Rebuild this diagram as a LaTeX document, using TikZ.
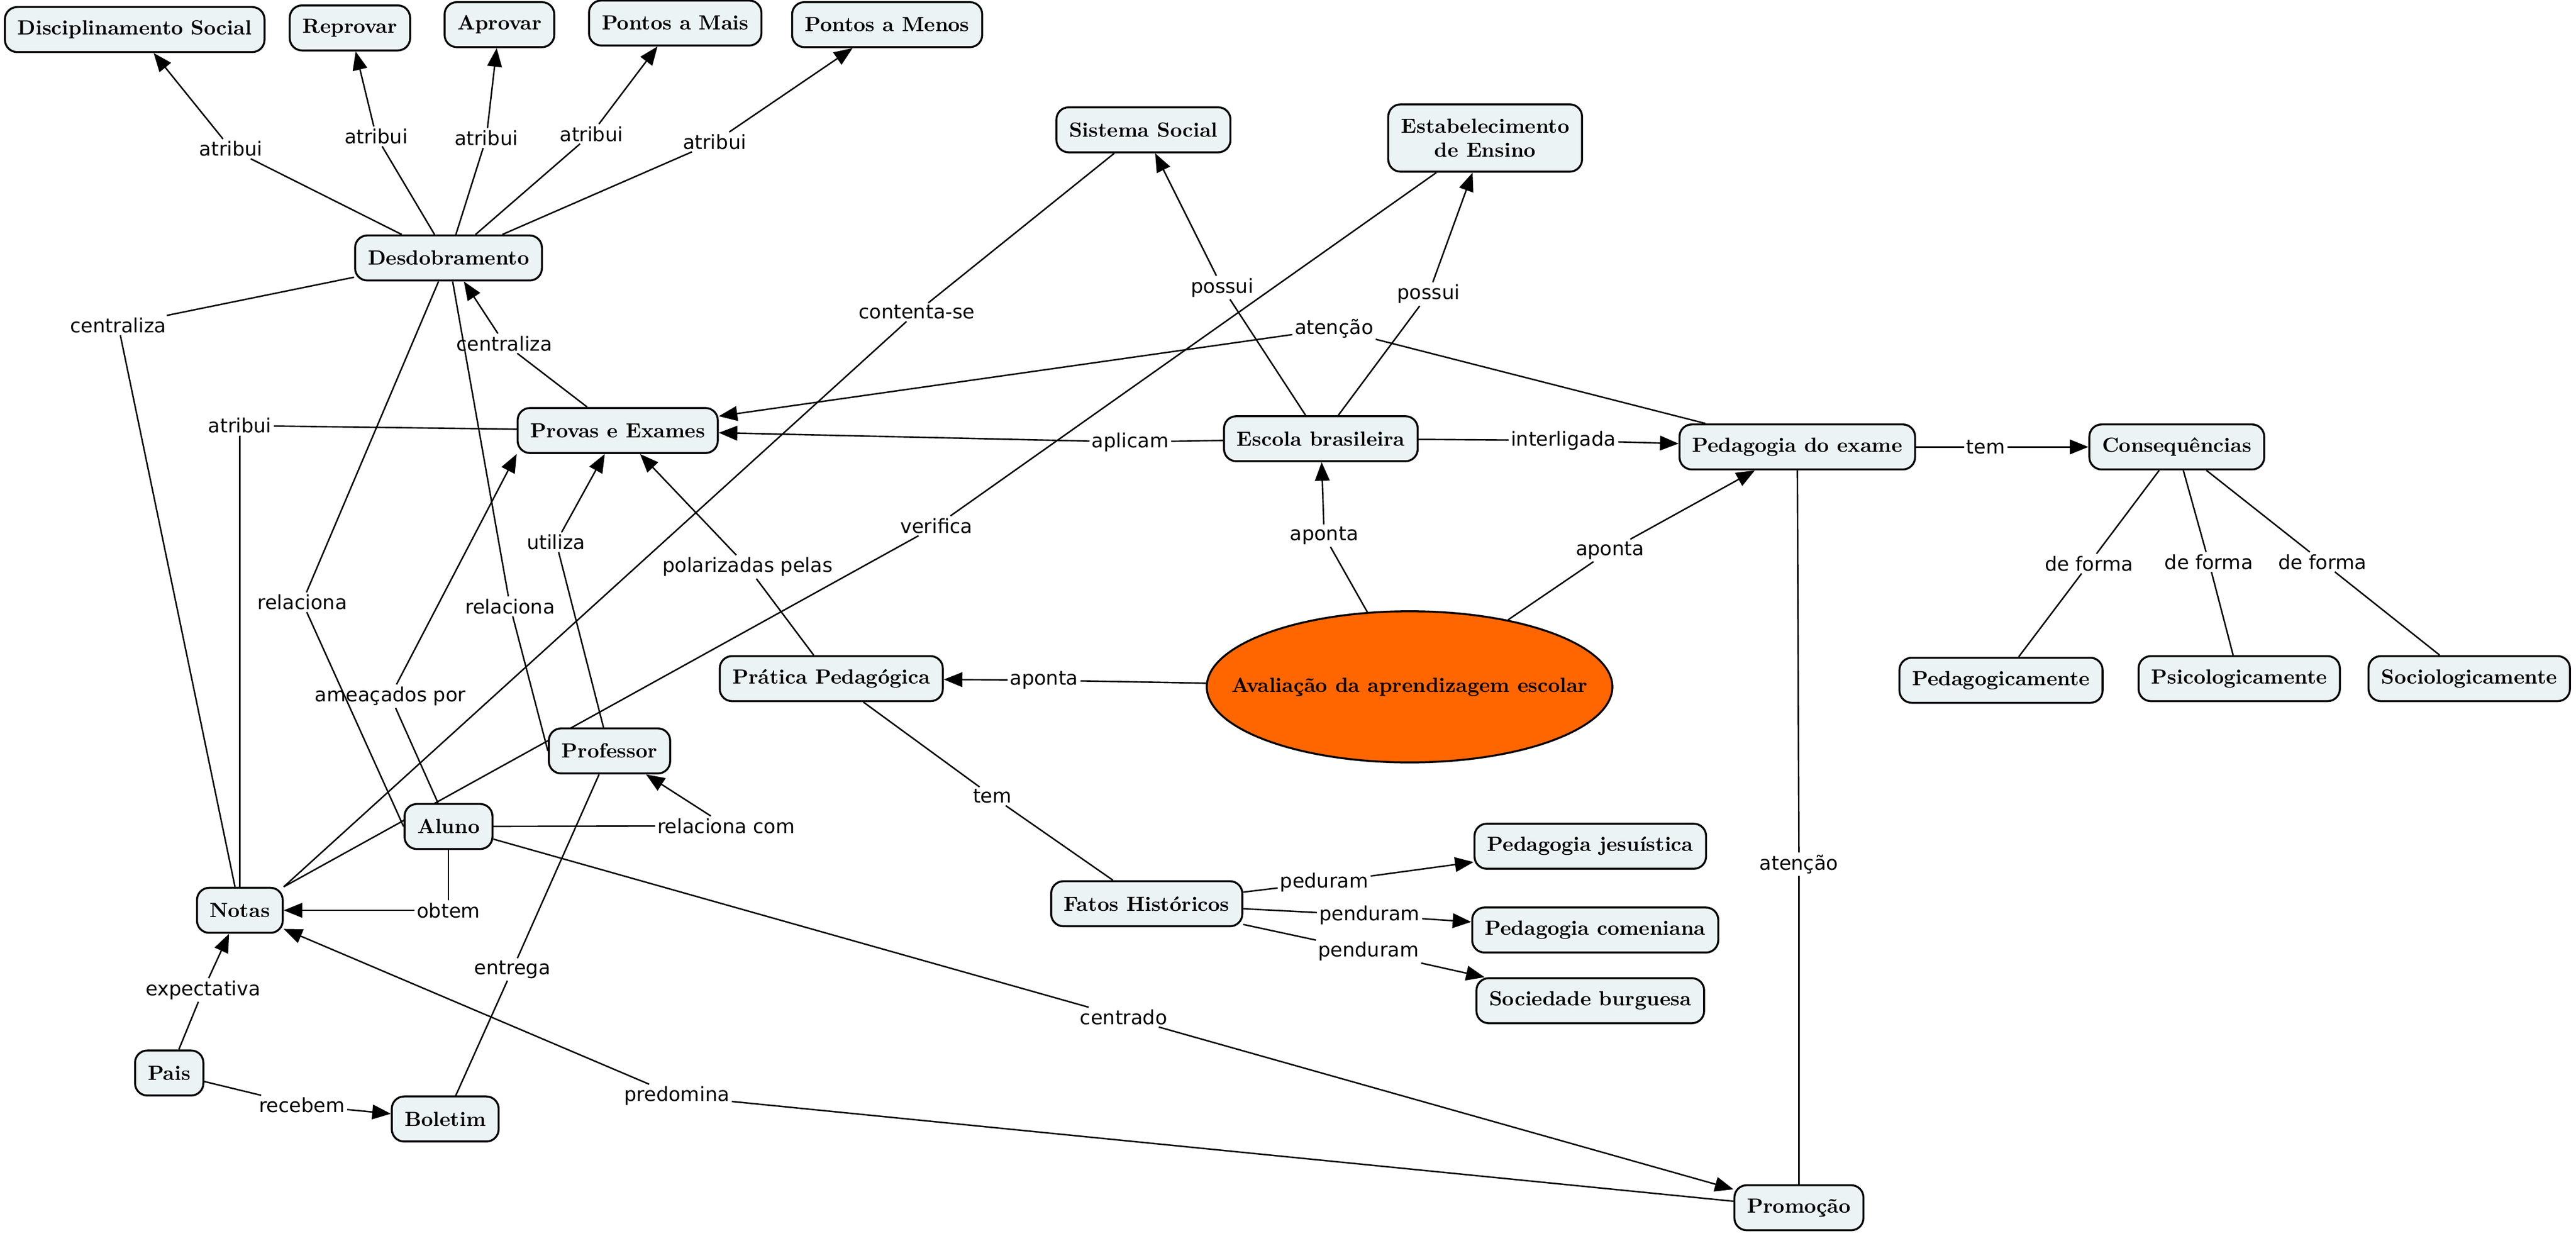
\documentclass[tikz,border=0pt]{standalone}
\usepackage{fontspec}
\newfontfamily\phrasefont{DejaVu Sans}
\usetikzlibrary{shapes.geometric,arrows.meta,backgrounds}
\definecolor{conceptfill}{RGB}{236,243,245}
\definecolor{mainfill}{RGB}{255,102,0}

\begin{document}
\begin{tikzpicture}[x=0.29566mm, y=-0.29566mm,
    concept/.style={draw, line width=1pt, rounded corners=2.2mm, fill=conceptfill, minimum height=8.1mm, inner xsep=2.3mm, font=\fontsize{10.5}{12}\selectfont\bfseries},
    phrase/.style={inner sep=1pt, font=\phrasefont\fontsize{10}{12}\selectfont},
    linkline/.style={line width=0.75pt},
    linkarrow/.style={line width=0.75pt, -{Triangle[length=9.5pt,width=7.5pt]}}]
    \useasboundingbox (0,0) rectangle (1568,752);

    \node[concept] (DS) at (82,18) {Disciplinamento Social};
    \node[concept] (Rep) at (213,17) {Reprovar};
    \node[concept] (Apr) at (304,15) {Aprovar};
    \node[concept] (PMa) at (411,14) {Pontos a Mais};
    \node[concept] (PMe) at (540,15) {Pontos a Menos};
    \node[concept] (Des) at (273,157) {Desdobramento};
    \node[concept] (SS) at (696,79) {Sistema Social};
    \node[concept, align=center, minimum height=12.1mm] (EE) at (904,84) {Estabelecimento\\de Ensino};
    \node[concept] (PE) at (376,262) {Provas e Exames};
    \node[concept] (EB) at (804,267) {Escola brasileira};
    \node[concept] (PEx) at (1094,272) {Pedagogia do exame};
    \node[concept] (Con) at (1325,272) {Consequências};
    \node[concept] (Ped) at (1218,414) {Pedagogicamente};
    \node[concept] (Psi) at (1363,413) {Psicologicamente};
    \node[concept] (Soc) at (1503,413) {Sociologicamente};
    \node[ellipse, draw, line width=1pt, fill=mainfill, minimum width=73mm, minimum height=27.2mm, inner xsep=-7mm, inner ysep=0pt, font=\fontsize{10.5}{12}\selectfont\bfseries] (AAE) at (858,418) {Avaliação da aprendizagem escolar};
    \node[concept] (PP) at (506,413) {Prática Pedagógica};
    \node[concept] (Prof) at (371,457) {Professor};
    \node[concept] (Alu) at (273,503) {Aluno};
    \node[concept] (Not) at (146,554) {Notas};
    \node[concept] (FH) at (698,550) {Fatos Históricos};
    \node[concept] (PJ) at (968,515) {Pedagogia jesuística};
    \node[concept] (PC) at (971,566) {Pedagogia comeniana};
    \node[concept] (SB) at (968,609) {Sociedade burguesa};
    \node[concept] (Pais) at (103,653) {Pais};
    \node[concept] (Bol) at (271,681) {Boletim};
    \node[concept] (Pro) at (1095,735) {Promoção};

    \node[phrase] (atr1) at (140.6,90.6) {atribui};
    \node[phrase] (atr2) at (229,83) {atribui};
    \node[phrase] (atr3) at (296,84) {atribui};
    \node[phrase] (atr4) at (360,81.5) {atribui};
    \node[phrase] (atr5) at (435,86.4) {atribui};
    \node[phrase] (cen1) at (72,198) {centraliza};
    \node[phrase] (cen2) at (307,209) {centraliza};
    \node[phrase] (atr6) at (146,259) {atribui};
    \node[phrase] (rel1) at (184,366.5) {relaciona};
    \node[phrase] (rel2) at (310.5,369) {relaciona};
    \node[phrase] (ame) at (237.6,423.7) {ameaçados por};
    \node[phrase] (uti) at (338.5,330) {utiliza};
    \node[phrase] (pol) at (455,345) {polarizadas pelas};
    \node[phrase] (apl) at (688,269) {aplicam};
    \node[phrase] (ate1) at (812,200) {atenção};
    \node[phrase] (cont) at (558,190) {contenta-se};
    \node[phrase] (ver) at (570,320) {verifica};
    \node[phrase] (pos1) at (744,175) {possui};
    \node[phrase] (pos2) at (869.5,179) {possui};
    \node[phrase] (int) at (951.6,268) {interligada};
    \node[phrase] (apo1) at (806,326) {aponta};
    \node[phrase] (apo2) at (980,335) {aponta};
    \node[phrase] (apo3) at (635.5,414) {aponta};
    \node[phrase] (tem1) at (1208.7,272) {tem};
    \node[phrase] (def1) at (1271.6,343) {de forma};
    \node[phrase] (def2) at (1344.5,342) {de forma};
    \node[phrase] (def3) at (1413.6,342) {de forma};
    \node[phrase] (ate2) at (1095,526) {atenção};
    \node[phrase] (tem2) at (604,484.6) {tem};
    \node[phrase] (ped) at (806,537) {peduram};
    \node[phrase] (pen1) at (833.6,557) {penduram};
    \node[phrase] (pen2) at (833,579) {penduram};
    \node[phrase] (relc) at (442,502.6) {relaciona com};
    \node[phrase] (obt) at (273,554) {obtem};
    \node[phrase] (centr) at (684,619) {centrado};
    \node[phrase] (ent) at (311.9,590) {entrega};
    \node[phrase] (exp) at (123.7,602.5) {expectativa};
    \node[phrase] (rec) at (183.8,672.6) {recebem};
    \node[phrase] (pred) at (412,667) {predomina};

    \begin{scope}[on background layer]
    \draw[linkline] (Des) -- (atr1); \draw[linkarrow] (atr1) -- (DS);
    \draw[linkline] (Des) -- (atr2); \draw[linkarrow] (atr2) -- (Rep);
    \draw[linkline] (Des) -- (atr3); \draw[linkarrow] (atr3) -- (Apr);
    \draw[linkline] (Des) -- (atr4); \draw[linkarrow] (atr4) -- (PMa);
    \draw[linkline] (Des) -- (atr5); \draw[linkarrow] (atr5) -- (PMe);
    \draw[linkline] (Des) -- (cen1); \draw[linkline] (cen1) -- (Not);
    \draw[linkline] (PE) -- (cen2); \draw[linkarrow] (cen2) -- (Des);
    \draw[linkline] (PE) -- (atr6); \draw[linkline] (atr6) -- (Not);
    \draw[linkline] (Des) -- (rel1); \draw[linkline] (rel1) -- (Alu.west);
    \draw[linkline] (Des) -- (rel2); \draw[linkline] (rel2) -- (Prof.west);
    \draw[linkline] (Alu) -- (ame); \draw[linkarrow] (ame) -- (PE.south west);
    \draw[linkline] (Prof) -- (uti); \draw[linkarrow] (uti) -- (PE);
    \draw[linkline] (PP) -- (pol); \draw[linkarrow] (pol) -- (PE);
    \draw[linkline] (EB) -- (apl); \draw[linkarrow] (apl) -- (PE);
    \draw[linkline] (PEx) -- (ate1); \draw[linkarrow] (ate1) -- (PE);
    \draw[linkline] (SS) -- (cont); \draw[linkline] (cont) -- (Not.north east);
    \draw[linkline] (EE) -- (ver); \draw[linkline] (ver) -- (Not.north east);
    \draw[linkline] (EB) -- (pos1); \draw[linkarrow] (pos1) -- (SS);
    \draw[linkline] (EB) -- (pos2); \draw[linkarrow] (pos2) -- (EE);
    \draw[linkline] (EB) -- (int); \draw[linkarrow] (int) -- (PEx);
    \draw[linkline] (AAE) -- (apo1); \draw[linkarrow] (apo1) -- (EB);
    \draw[linkline] (AAE) -- (apo2); \draw[linkarrow] (apo2) -- (PEx);
    \draw[linkline] (AAE) -- (apo3); \draw[linkarrow] (apo3) -- (PP);
    \draw[linkline] (PEx) -- (tem1); \draw[linkarrow] (tem1) -- (Con);
    \draw[linkline] (Con) -- (def1); \draw[linkline] (def1) -- (Ped);
    \draw[linkline] (Con) -- (def2); \draw[linkline] (def2) -- (Psi);
    \draw[linkline] (Con) -- (def3); \draw[linkline] (def3) -- (Soc);
    \draw[linkline] (PEx) -- (ate2); \draw[linkline] (ate2) -- (Pro);
    \draw[linkline] (PP) -- (tem2); \draw[linkline] (tem2) -- (FH);
    \draw[linkline] (FH) -- (ped); \draw[linkarrow] (ped) -- (PJ);
    \draw[linkline] (FH) -- (pen1); \draw[linkarrow] (pen1) -- (PC);
    \draw[linkline] (FH) -- (pen2); \draw[linkarrow] (pen2) -- (SB);
    \draw[linkline] (Alu) -- (relc); \draw[linkarrow] (relc) -- (Prof);
    \draw[linkline] (Alu) -- (obt); \draw[linkarrow] (obt) -- (Not);
    \draw[linkline] (Alu) -- (centr); \draw[linkarrow] (centr) -- (Pro);
    \draw[linkline] (Prof) -- (ent); \draw[linkline] (ent) -- (Bol);
    \draw[linkline] (Pais) -- (exp); \draw[linkarrow] (exp) -- (Not);
    \draw[linkline] (Pais) -- (rec); \draw[linkarrow] (rec) -- (Bol);
    \draw[linkline] (Pro) -- (pred); \draw[linkarrow] (pred) -- (Not);
    \end{scope}
\end{tikzpicture}
\end{document}
